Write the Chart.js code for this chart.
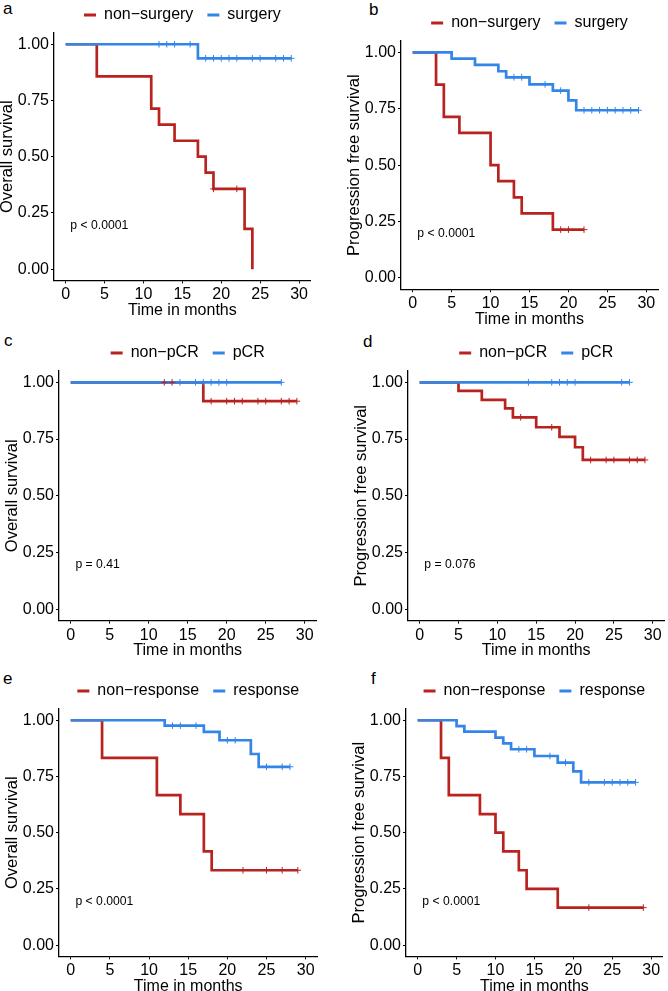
<!DOCTYPE html>
<html><head><meta charset="utf-8">
<script src="https://cdn.jsdelivr.net/npm/chart.js@4/dist/chart.umd.min.js"></script>
<style>
html,body{margin:0;padding:0;background:#fff;}
body{width:668px;height:991px;position:relative;overflow:hidden;font-family:"Liberation Sans",Arial,sans-serif;}
canvas{position:absolute;}
.lab{position:absolute;font-size:17px;line-height:17px;color:#000;}
</style></head><body>
<div class="lab" style="left:3px;top:0px">a</div>
<div class="lab" style="left:369px;top:1px">b</div>
<div class="lab" style="left:4px;top:332px">c</div>
<div class="lab" style="left:363px;top:333px">d</div>
<div class="lab" style="left:3px;top:670px">e</div>
<div class="lab" style="left:371px;top:670px">f</div>
<script>
// ---------- shared axis data ----------
const xTickValues = [0, 5, 10, 15, 20, 25, 30];
const yTickValues = [0, 0.25, 0.5, 0.75, 1];
const yTickLabels = ['0.00', '0.25', '0.50', '0.75', '1.00'];
const xTitle = 'Time in months';
const osTitle = 'Overall survival';
const pfsTitle = 'Progression free survival';

// ---------- panel a : OS by surgery ----------
const aLabels = ['non\u2212surgery', 'surgery'];
const aRedTime = [0, 4, 11, 12, 14, 17, 18, 19, 23, 24];
const aRedSurv = [1, 0.857, 0.714, 0.643, 0.571, 0.5, 0.429, 0.357, 0.179, 0];
const aRedCensor = [19, 22];
const aBlueTime = [0, 17, 29];
const aBlueSurv = [1, 0.9375, 0.9375];
const aBlueCensor = [12, 13, 14, 16, 18, 19, 20, 21, 22, 24, 25, 27, 28, 29];
const aP = 'p < 0.0001';

// ---------- panel b : PFS by surgery ----------
const bLabels = ['non\u2212surgery', 'surgery'];
const bRedTime = [0, 3, 4, 6, 10, 11, 13, 14, 18, 22];
const bRedSurv = [1, 0.857, 0.714, 0.643, 0.5, 0.429, 0.357, 0.286, 0.214, 0.214];
const bRedCensor = [19, 20, 22];
const bBlueTime = [0, 5, 8, 11, 12, 15, 18, 20, 21, 29];
const bBlueSurv = [1, 0.972, 0.944, 0.916, 0.889, 0.858, 0.830, 0.787, 0.743, 0.743];
const bBlueCensor = [13, 14, 17, 19, 22, 23, 24, 25, 26, 27, 28, 29];
const bP = 'p < 0.0001';

// ---------- panel c : OS by pCR ----------
const cLabels = ['non\u2212pCR', 'pCR'];
const cRedTime = [0, 17, 29];
const cRedSurv = [1, 0.917, 0.917];
const cRedCensor = [12, 13, 18, 20, 21, 22, 24, 25, 27, 28, 29];
const cBlueTime = [0, 27];
const cBlueSurv = [1, 1];
const cBlueCensor = [14, 16, 17, 18, 19, 20, 27];
const cP = 'p = 0.41';

// ---------- panel d : PFS by pCR ----------
const dLabels = ['non\u2212pCR', 'pCR'];
const dRedTime = [0, 5, 8, 11, 12, 15, 18, 20, 21, 29];
const dRedSurv = [1, 0.962, 0.923, 0.885, 0.846, 0.802, 0.76, 0.714, 0.658, 0.658];
const dRedCensor = [13, 17, 22, 24, 25, 27, 28, 29];
const dBlueTime = [0, 27];
const dBlueSurv = [1, 1];
const dBlueCensor = [14, 17, 18, 19, 20, 26, 27];
const dP = 'p = 0.076';

// ---------- panel e : OS by response ----------
const eLabels = ['non\u2212response', 'response'];
const eRedTime = [0, 4, 11, 14, 17, 18, 29];
const eRedSurv = [1, 0.833, 0.667, 0.583, 0.417, 0.333, 0.333];
const eRedCensor = [22, 25, 27, 29];
const eBlueTime = [0, 12, 17, 19, 23, 24, 28];
const eBlueSurv = [1, 0.976, 0.948, 0.911, 0.850, 0.793, 0.793];
const eBlueCensor = [13, 14, 16, 20, 21, 25, 27, 28];
const eP = 'p < 0.0001';

// ---------- panel f : PFS by response ----------
const fLabels = ['non\u2212response', 'response'];
const fRedTime = [0, 3, 4, 8, 10, 11, 13, 14, 18, 29];
const fRedSurv = [1, 0.833, 0.667, 0.583, 0.5, 0.417, 0.333, 0.25, 0.167, 0.167];
const fRedCensor = [22, 29];
const fBlueTime = [0, 5, 6, 10, 11, 12, 15, 18, 20, 21, 28];
const fBlueSurv = [1, 0.974, 0.949, 0.923, 0.897, 0.871, 0.841, 0.812, 0.773, 0.724, 0.724];
const fBlueCensor = [13, 14, 17, 19, 22, 24, 25, 26, 27, 28];
const fP = 'p < 0.0001';

// ---------- styling ----------
const RED = '#B8231F';
const BLUE = '#3385E8';
const FONT = '"Liberation Sans", Arial, sans-serif';
Chart.defaults.font.family = FONT;
Chart.defaults.color = '#000';

function stepAt(times, surv, t) {
  let v = surv[0];
  for (let i = 0; i < times.length; i++) if (times[i] <= t) v = surv[i];
  return v;
}
function curve(times, surv) { return times.map((t, i) => ({x: t, y: surv[i]})); }
function marks(times, surv, cens) { return cens.map(t => ({x: t, y: stepAt(times, surv, t)})); }

const pvalPlugin = {
  id: 'pval',
  afterDatasetsDraw(chart) {
    const o = chart.options.plugins.pval;
    if (!o) return;
    const ctx = chart.ctx;
    ctx.save();
    ctx.font = '12.2px ' + FONT;
    ctx.fillStyle = '#000';
    ctx.textAlign = 'left';
    ctx.textBaseline = 'middle';
    ctx.fillText(o.text, chart.scales.x.getPixelForValue(o.x), chart.scales.y.getPixelForValue(o.y));
    ctx.restore();
  }
};

const X_AXIS_H = 40;

function makePanel(g, labels, rt, rs, rc, bt, bs, bc, yTitle, pText) {
  const cl = g.L - 58, ct = g.T - 48;
  const w = Math.round(g.R + 6 - cl), h = Math.round(g.B + X_AXIS_H - ct);
  const cv = document.createElement('canvas');
  cv.width = w; cv.height = h;
  cv.style.left = cl + 'px'; cv.style.top = ct + 'px';
  cv.style.width = w + 'px'; cv.style.height = h + 'px';
  document.body.appendChild(cv);
  const lineW = 2.7;
  const chart = new Chart(cv, {
    type: 'line',
    data: {
      datasets: [
        {label: labels[0] + ' censor', data: marks(rt, rs, rc), showLine: false, pointStyle: 'cross',
         pointRadius: 3.3, pointBorderWidth: 1, borderColor: RED, backgroundColor: RED},
        {label: labels[1] + ' censor', data: marks(bt, bs, bc), showLine: false, pointStyle: 'cross',
         pointRadius: 3.3, pointBorderWidth: 1, borderColor: BLUE, backgroundColor: BLUE},
        {label: labels[1], data: curve(bt, bs), stepped: true, borderColor: BLUE, backgroundColor: BLUE,
         borderWidth: lineW, pointRadius: 0, fill: false},
        {label: labels[0], data: curve(rt, rs), stepped: true, borderColor: RED, backgroundColor: RED,
         borderWidth: lineW, pointRadius: 0, fill: false}
      ]
    },
    options: {
      responsive: false, animation: false, devicePixelRatio: 1,
      layout: {padding: {left: 2, right: 6, top: 5, bottom: 0}},
      events: [],
      plugins: {
        tooltip: {enabled: false},
        pval: {text: pText, x: 0.6, y: 0.195},
        legend: {
          display: true, position: 'top', fullSize: false, align: 'center',
          labels: {
            font: {size: 16, family: FONT}, color: '#000', boxWidth: 12, boxHeight: 3, padding: 14,
            generateLabels: () => [
              {text: labels[0], fillStyle: RED, strokeStyle: RED, lineWidth: 0, hidden: false, datasetIndex: 3},
              {text: labels[1], fillStyle: BLUE, strokeStyle: BLUE, lineWidth: 0, hidden: false, datasetIndex: 2}
            ]
          }
        }
      },
      scales: {
        x: {
          type: 'linear', min: -1.5, max: 31.5,
          afterBuildTicks: s => { s.ticks = xTickValues.map(v => ({value: v})); },
          afterFit: s => { s.height = X_AXIS_H; },
          ticks: {font: {size: 16}, color: '#000', padding: 2, maxRotation: 0, autoSkip: false,
                  callback: v => String(v)},
          grid: {display: true, drawOnChartArea: false, drawTicks: true, tickLength: 3, color: '#000', lineWidth: 1},
          border: {display: true, color: '#000', width: 1.3},
          title: {display: true, text: xTitle, font: {size: 16}, color: '#000', padding: {top: 0, bottom: 0}}
        },
        y: {
          type: 'linear', min: -0.05, max: 1.05,
          afterBuildTicks: s => { s.ticks = yTickValues.map(v => ({value: v})); },
          afterFit: s => { s.width = 56; },
          ticks: {font: {size: 16}, color: '#000', padding: 2, autoSkip: false,
                  callback: v => yTickLabels[yTickValues.indexOf(v)]},
          grid: {display: true, drawOnChartArea: false, drawTicks: true, tickLength: 3, color: '#000', lineWidth: 1},
          border: {display: true, color: '#000', width: 1.3},
          title: {display: true, text: yTitle, font: {size: 16.5}, color: '#000', padding: {top: 0, bottom: 0}}
        }
      }
    },
    plugins: [pvalPlugin]
  });
  for (let k = 0; k < 3; k++) {
    const ca = chart.chartArea;
    const p = chart.options.layout.padding;
    p.left += (g.L - cl) - ca.left;
    p.top += (g.T - ct) - ca.top;
    p.right += ca.right - (g.R - cl);
    p.bottom += ca.bottom - (g.B - ct);
    chart.update('none');
  }
  return chart;
}

makePanel({L: 54, R: 310.7, T: 33.1, B: 280.5}, aLabels, aRedTime, aRedSurv, aRedCensor, aBlueTime, aBlueSurv, aBlueCensor, osTitle, aP);
makePanel({L: 401, R: 658, T: 41.4, B: 289.6}, bLabels, bRedTime, bRedSurv, bRedCensor, bBlueTime, bBlueSurv, bBlueCensor, pfsTitle, bP);
makePanel({L: 59.3, R: 316.7, T: 371, B: 620.6}, cLabels, cRedTime, cRedSurv, cRedCensor, cBlueTime, cBlueSurv, cBlueCensor, osTitle, cP);
makePanel({L: 407.6, R: 664, T: 371, B: 620.6}, dLabels, dRedTime, dRedSurv, dRedCensor, dBlueTime, dBlueSurv, dBlueCensor, pfsTitle, dP);
makePanel({L: 59, R: 317.4, T: 708.8, B: 956.2}, eLabels, eRedTime, eRedSurv, eRedCensor, eBlueTime, eBlueSurv, eBlueCensor, osTitle, eP);
makePanel({L: 405.6, R: 662.4, T: 708.8, B: 956.2}, fLabels, fRedTime, fRedSurv, fRedCensor, fBlueTime, fBlueSurv, fBlueCensor, pfsTitle, fP);
</script>
</body></html>
